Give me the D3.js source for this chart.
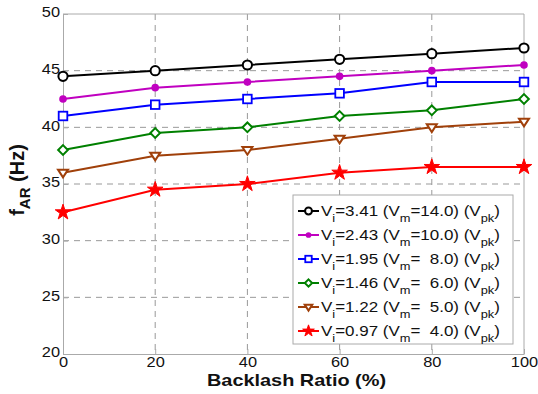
<!DOCTYPE html>
<html>
<head>
<meta charset="utf-8">
<script src="https://cdn.jsdelivr.net/npm/d3@7"></script>
<style>
  body { margin: 0; background: #fff; }
  text { font-family: "Liberation Sans", Arial, sans-serif; }
</style>
</head>
<body>
<div id="chart"></div>
<script>
var W = 538, H = 394;
var margin = {top: 14, right: 14, bottom: 40, left: 63},
    width = W - margin.left - margin.right,
    height = H - margin.top - margin.bottom;

// the original figure is stretched sideways, so text is widened a bit
var sx = 1.17;

// backlash ratio (%)
var ratios = [0, 20, 40, 60, 80, 100];
var xTicks = [0, 20, 40, 60, 80, 100];
var yTicks = [20, 25, 30, 35, 40, 45, 50];

// f_AR (Hz) for each drive amplitude
var vi341 = [44.5, 45, 45.5, 46, 46.5, 47];
var vi243 = [42.5, 43.5, 44, 44.5, 45, 45.5];
var vi195 = [41, 42, 42.5, 43, 44, 44];
var vi146 = [38, 39.5, 40, 41, 41.5, 42.5];
var vi122 = [36, 37.5, 38, 39, 40, 40.5];
var vi097 = [32.5, 34.5, 35, 36, 36.5, 36.5];

var viLabels = ["3.41", "2.43", "1.95", "1.46", "1.22", "0.97"];
var vmLabels = ["14.0", "10.0", "  8.0", "  6.0", "  5.0", "  4.0"];
var colors = ["#000000", "#c000c0", "#0000ff", "#008000", "#a0400a", "#ff0000"];
var markers = ["circle", "dot", "square", "diamond", "triangle", "star"];

var series = [vi341, vi243, vi195, vi146, vi122, vi097].map(function(v, i) {
  return {values: v, color: colors[i], marker: markers[i], vi: viLabels[i], vm: vmLabels[i]};
});

var svg = d3.select("#chart").append("svg")
    .attr("width", W)
    .attr("height", H);

var g = svg.append("g")
    .attr("transform", "translate(" + margin.left + "," + margin.top + ")");

var x = d3.scaleLinear().domain([0, 100]).range([0, width]);
var y = d3.scaleLinear().domain([20, 50]).range([height, 0]);

// dashed grid
g.append("g").selectAll("line")
  .data(xTicks.slice(1, -1))
  .join("line")
    .attr("x1", d => x(d)).attr("x2", d => x(d))
    .attr("y1", 0).attr("y2", height)
    .attr("stroke", "#999").attr("stroke-dasharray", "6,5").attr("stroke-width", 1);

g.append("g").selectAll("line")
  .data(yTicks.slice(1, -1))
  .join("line")
    .attr("x1", 0).attr("x2", width)
    .attr("y1", d => y(d)).attr("y2", d => y(d))
    .attr("stroke", "#999").attr("stroke-dasharray", "6,5").attr("stroke-width", 1);

// axes
var xAxis = g.append("g")
    .attr("transform", "translate(0," + height + ")")
    .call(d3.axisBottom(x).tickValues(xTicks).tickSize(-5).tickSizeOuter(0).tickPadding(5));
var yAxis = g.append("g")
    .call(d3.axisLeft(y).tickValues(yTicks).tickSize(-5).tickSizeOuter(0).tickPadding(3));

[xAxis, yAxis].forEach(function(a) {
  a.select(".domain").attr("stroke", "#aaa");
  a.selectAll(".tick line").attr("stroke", "#aaa");
  a.selectAll(".tick text").attr("fill", "#111").style("font-size", "14px")
    .style("font-family", "'Liberation Sans', Arial, sans-serif");
});
yAxis.selectAll(".tick text").attr("dy", "0.2em").attr("x", -3 / sx)
  .attr("transform", "scale(" + sx + ",1)");
xAxis.selectAll(".tick text").attr("dy", "0.55em")
  .attr("transform", "scale(" + sx + ",1)");

// top and right frame
g.append("line").attr("x1", 0).attr("x2", width).attr("y1", 0).attr("y2", 0).attr("stroke", "#aaa");
g.append("line").attr("x1", width).attr("x2", width).attr("y1", 0).attr("y2", height).attr("stroke", "#aaa");

var line = d3.line().x((d, i) => x(ratios[i])).y(d => y(d));

function drawMarker(sel, type, color, s) {
  if (type === "circle") {
    sel.append("circle").attr("r", 4.6 * s).attr("fill", "#fff").attr("stroke", color).attr("stroke-width", 2);
  } else if (type === "dot") {
    sel.append("circle").attr("r", 3.8 * s).attr("fill", color);
  } else if (type === "square") {
    sel.append("rect").attr("x", -4.3 * s).attr("y", -4.3 * s).attr("width", 8.6 * s).attr("height", 8.6 * s)
      .attr("fill", "#fff").attr("stroke", color).attr("stroke-width", 1.8);
  } else if (type === "diamond") {
    sel.append("path").attr("d", d3.symbol(d3.symbolDiamond2, 60 * s * s)())
      .attr("fill", "#fff").attr("stroke", color).attr("stroke-width", 2);
  } else if (type === "triangle") {
    var r = 5 * s;
    sel.append("path").attr("d", "M" + (-r) + "," + (-r * 0.6) + "L" + r + "," + (-r * 0.6) + "L0," + (r * 0.95) + "Z")
      .attr("fill", "#fff").attr("stroke", color).attr("stroke-width", 2);
  } else if (type === "star") {
    sel.append("path").attr("d", d3.symbol(d3.symbolStar, 75 * s * s)())
      .attr("fill", color).attr("stroke", color).attr("stroke-width", 1);
  }
}

series.forEach(function(sr) {
  g.append("path")
    .datum(sr.values)
    .attr("fill", "none")
    .attr("stroke", sr.color)
    .attr("stroke-width", 2)
    .attr("d", line);
  g.append("g").selectAll("g")
    .data(sr.values)
    .join("g")
      .attr("transform", (d, i) => "translate(" + x(ratios[i]) + "," + y(d) + ")")
      .each(function() { drawMarker(d3.select(this), sr.marker, sr.color, 1); });
});

// legend
var lg = svg.append("g").attr("transform", "translate(293,195)");
lg.append("rect").attr("width", 220).attr("height", 149)
  .attr("fill", "#fff").attr("stroke", "#aaa").attr("stroke-width", 1);

series.forEach(function(sr, i) {
  var row = lg.append("g").attr("transform", "translate(0," + (16 + i * 24) + ")");
  row.append("line").attr("x1", 5).attr("x2", 26).attr("y1", 0).attr("y2", 0)
    .attr("stroke", sr.color).attr("stroke-width", 2);
  var m = row.append("g").attr("transform", "translate(15.5,0)");
  drawMarker(m, sr.marker, sr.color, 0.75);
  var t = row.append("g").attr("transform", "translate(28,5) scale(" + sx + ",1)")
    .append("text").attr("fill", "#111")
    .style("font-size", "14.5px").attr("xml:space", "preserve").style("white-space", "pre");
  t.append("tspan").text("V");
  t.append("tspan").attr("dy", 6).style("font-size", "11px").text("i");
  t.append("tspan").attr("dy", -6).text("=" + sr.vi + " (V");
  t.append("tspan").attr("dy", 6).style("font-size", "11px").text("m");
  t.append("tspan").attr("dy", -6).text("=" + sr.vm + ") (V");
  t.append("tspan").attr("dy", 6).style("font-size", "11px").text("pk");
  t.append("tspan").attr("dy", -6).text(")");
});

// axis titles
svg.append("g")
  .attr("transform", "translate(" + (margin.left + width / 2 + 3) + ",386) scale(" + sx + ",1)")
  .append("text")
  .attr("text-anchor", "middle")
  .style("font-size", "17px").style("font-weight", "bold").attr("fill", "#111")
  .text("Backlash Ratio (%)");

var yt = svg.append("text")
  .attr("transform", "translate(24," + (margin.top + height / 2 - 4) + ") rotate(-90)")
  .attr("text-anchor", "middle")
  .style("font-size", "20px").style("font-weight", "bold").attr("fill", "#111");
yt.append("tspan").text("f");
yt.append("tspan").attr("dy", 6).style("font-size", "15px").text("AR");
yt.append("tspan").attr("dy", -6).text(" (Hz)");
</script>
</body>
</html>
